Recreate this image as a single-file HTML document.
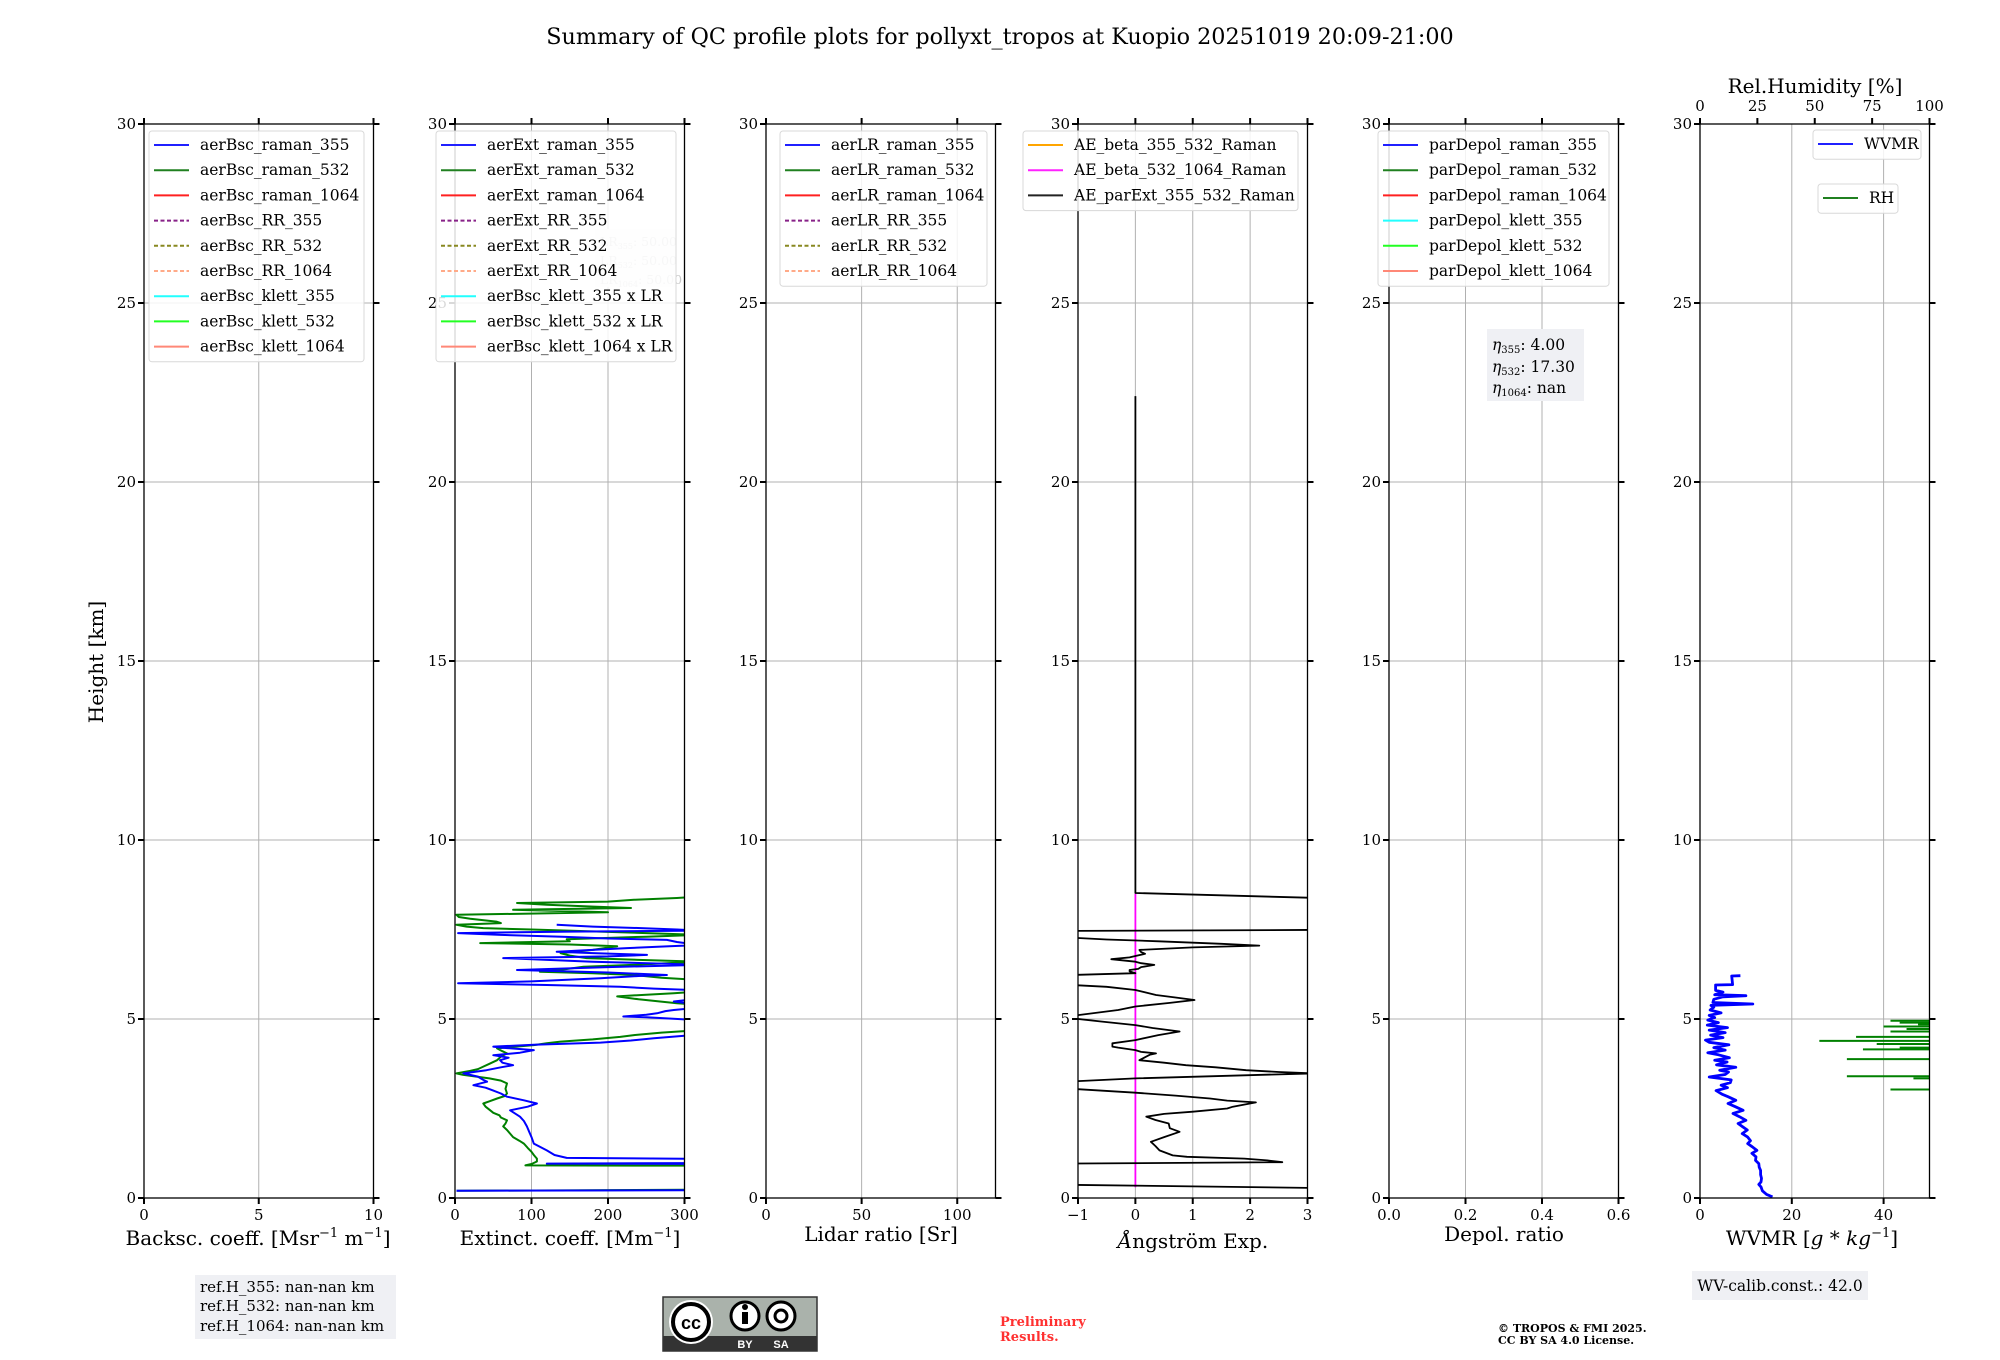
<!DOCTYPE html>
<html><head><meta charset="utf-8">
<style>
html,body{margin:0;padding:0;background:#fff;}
svg{display:block;font-family:"DejaVu Serif","Liberation Serif",serif;}
</style></head>
<body>
<svg id="fig" width="2000" height="1360" viewBox="0 0 2000 1360" xmlns="http://www.w3.org/2000/svg">
<rect x="0" y="0" width="2000" height="1360" fill="#fff"/>
<text x="1000" y="44" text-anchor="middle" font-size="22.3" fill="#000">Summary of QC profile plots for pollyxt_tropos at Kuopio 20251019 20:09-21:00</text>
<text transform="translate(103,662) rotate(-90)" text-anchor="middle" font-size="20">Height [km]</text>

<g>
<rect x="195" y="1275" width="201" height="64" fill="#eff0f4"/>
<text x="200" y="1292" font-size="15">ref.H_355: nan-nan km</text>
<text x="200" y="1311" font-size="15">ref.H_532: nan-nan km</text>
<text x="200" y="1331" font-size="15">ref.H_1064: nan-nan km</text>
</g>

<g>
<rect x="663" y="1297" width="154" height="54" fill="#aab2ab" stroke="#333" stroke-width="1.5"/>
<rect x="663" y="1336" width="154" height="15" fill="#333"/>
<circle cx="691" cy="1322" r="22" fill="#fff"/>
<circle cx="691" cy="1322" r="18" fill="#fff" stroke="#000" stroke-width="4"/>
<text x="691" y="1329" text-anchor="middle" font-size="18" font-weight="bold" font-family="Liberation Sans,sans-serif">cc</text>
<circle cx="745" cy="1316" r="14" fill="#fff" stroke="#000" stroke-width="3"/>
<rect x="742" y="1312" width="6" height="12" fill="#000"/><circle cx="745" cy="1307" r="3" fill="#000"/>
<circle cx="781" cy="1316" r="14" fill="#fff" stroke="#000" stroke-width="3"/>
<circle cx="781" cy="1316" r="6" fill="none" stroke="#000" stroke-width="3"/>
<text x="745" y="1348" text-anchor="middle" font-size="11" font-weight="bold" fill="#fff" font-family="Liberation Sans,sans-serif">BY</text>
<text x="781" y="1348" text-anchor="middle" font-size="11" font-weight="bold" fill="#fff" font-family="Liberation Sans,sans-serif">SA</text>
</g>

<text x="1000" y="1326" font-size="13" font-weight="bold" fill="#ff3030"><tspan x="1000">Preliminary</tspan><tspan x="1000" dy="15">Results.</tspan></text>
<text x="1498" y="1332" font-size="11" font-weight="bold" fill="#000"><tspan x="1498">© TROPOS &amp; FMI 2025.</tspan><tspan x="1498" dy="12">CC BY SA 4.0 License.</tspan></text>

<g>
<rect x="1692" y="1271" width="176" height="29" fill="#eff0f4"/>
<text x="1780" y="1291" text-anchor="middle" font-size="15.5">WV-calib.const.: 42.0</text>
</g>
</svg>

<script>
// ---- data ----
const extH355=[0.2,0.22,0.95,0.96,0.98,1.08,1.12,1.2,1.33,1.52,1.7,1.85,2.0,2.15,2.27,2.45,2.55,2.64,2.73,2.83,2.92,3.0,3.08,3.15,3.25,3.3,3.39,3.48,3.57,3.65,3.71,3.78,3.85,3.92,3.99,4.06,4.13,4.2,4.23,4.28,4.34,4.4,4.46,4.55,4.97,4.99,5.05,5.07,5.12,5.16,5.22,5.25,5.3,5.45,5.49,5.55,5.81,5.85,5.9,5.95,6.0,6.05,6.14,6.2,6.23,6.3,6.37,6.45,6.51,6.55,6.6,6.7,6.75,6.79,6.84,6.88,6.93,6.98,7.03,7.07,7.15,7.21,7.25,7.3,7.35,7.4,7.44,7.47,7.5,7.54,7.58,7.63];
const extV355=[2,400,400,120,400,400,146,130,120,103,100,97,94,90,85,72,95,107,90,68,60,50,40,24,42,37,30,11,41,60,76,62,59,70,50,85,103,60,50,103,190,230,260,310,400,300,250,220,250,264,275,286,310,300,286,310,310,260,216,120,4,100,190,240,277,200,81,200,320,263,180,63,200,251,180,133,180,225,280,320,290,277,200,140,60,4,150,320,290,243,180,133];
const extH532=[0.2,0.24,0.9,0.91,0.95,1.02,1.1,1.2,1.29,1.4,1.52,1.6,1.7,1.8,1.9,2.0,2.08,2.17,2.25,2.31,2.38,2.45,2.55,2.64,2.7,2.78,2.85,2.92,3.05,3.2,3.28,3.34,3.39,3.44,3.48,3.55,3.6,3.67,3.75,3.85,3.95,4.04,4.1,4.18,4.23,4.27,4.32,4.37,4.43,4.5,4.55,4.62,4.69,5.39,5.44,5.49,5.55,5.63,5.68,5.72,5.77,6.09,6.15,6.23,6.28,6.32,6.38,6.46,6.52,6.6,6.65,6.7,6.77,6.84,6.93,7.03,7.08,7.12,7.17,7.23,7.3,7.35,7.4,7.44,7.5,7.54,7.58,7.63,7.68,7.72,7.8,7.85,7.91,7.98,8.05,8.1,8.14,8.19,8.24,8.28,8.33,8.38,8.42];
const extV532=[2,400,400,92,100,107,107,103,100,95,90,84,76,72,68,63,66,68,60,58,50,46,40,37,45,55,65,68,66,68,60,45,28,10,2,20,30,37,45,55,60,68,62,55,80,103,120,138,180,216,234,270,320,320,290,268,240,212,250,286,320,320,270,234,180,111,140,168,240,320,240,172,150,138,180,212,150,33,150,146,250,320,250,190,100,37,15,2,60,54,20,5,2,200,76,230,181,120,81,200,234,290,320];
const aeH=[0.28,0.37,0.96,1.0,1.05,1.1,1.15,1.19,1.33,1.45,1.57,1.7,1.85,1.95,2.08,2.18,2.27,2.35,2.41,2.5,2.55,2.67,2.72,2.78,2.86,2.94,3.06,3.25,3.34,3.48,3.52,3.57,3.65,3.71,3.78,3.85,3.95,4.0,4.04,4.08,4.13,4.2,4.23,4.32,4.41,4.55,4.65,4.75,4.83,4.93,5.02,5.11,5.25,5.35,5.45,5.53,5.6,5.67,5.81,5.9,5.95,6.23,6.28,6.33,6.37,6.4,6.45,6.51,6.56,6.6,6.67,6.72,6.76,6.82,6.87,6.93,7.0,7.05,7.1,7.17,7.22,7.27,7.46,7.49,8.38,8.52,22.4];
const aeV=[3.2,-1.2,-1.2,2.56,2.3,1.9,0.9,0.65,0.42,0.35,0.27,0.5,0.77,0.6,0.58,0.35,0.19,0.5,1.0,1.6,1.7,2.1,1.6,1.3,0.7,0.0,-1.2,-1.2,0.0,3.1,2.5,1.93,1.4,0.88,0.5,0.07,0.19,0.25,0.36,0.1,0.0,-0.3,-0.4,-0.4,0.0,0.4,0.77,0.3,0.0,-0.6,-1.1,-1.0,-0.3,0.0,0.6,1.03,0.7,0.36,0.0,-0.5,-1.1,-1.1,0.0,-0.1,-0.1,0.05,0.1,0.33,0.1,0.0,-0.42,-0.1,0.0,0.17,0.1,0.07,1.0,2.16,1.5,0.41,-0.5,-1.1,-1.1,3.2,3.2,0.0,0.0];
const aeBetaH=[0.3,8.5];
const aeBetaV=[0,0];
const wvH=[0.03,0.1,0.2,0.31,0.38,0.45,0.55,0.65,0.77,0.86,0.96,1.05,1.15,1.25,1.33,1.43,1.52,1.6,1.7,1.8,1.9,1.99,2.08,2.17,2.27,2.36,2.45,2.55,2.64,2.73,2.83,2.9,3.0,3.08,3.15,3.22,3.3,3.38,3.45,3.52,3.57,3.65,3.72,3.8,3.85,3.92,4.0,4.06,4.13,4.2,4.28,4.35,4.41,4.48,4.55,4.62,4.69,4.76,4.83,4.9,4.97,5.04,5.1,5.17,5.25,5.33,5.38,5.42,5.46,5.55,5.62,5.65,5.68,5.75,5.8,5.95,5.96,6.2,6.21];
const wvV=[15.8,14.5,13.6,13.3,12.8,13.3,13.4,13.2,13.2,12.9,12.8,12.1,12.2,11.3,12.4,11.4,10.4,11.0,10.4,9.2,10.3,9.3,8.3,10.0,8.6,7.2,9.4,7.7,6.1,7.8,6.1,4.8,3.5,6.0,4.6,6.6,6.8,2.0,5.5,6.2,4.3,7.8,3.6,5.9,3.2,6.4,4.0,1.7,5.5,3.0,6.3,2.0,1.2,5.0,2.3,5.5,2.0,6.0,1.6,4.0,1.7,3.2,2.0,4.6,2.2,3.0,2.4,11.5,2.8,3.0,5.0,10.0,3.2,5.0,3.4,3.4,7.1,6.9,8.8];
const rhH=[3.03,3.34,3.4,3.88,4.15,4.2,4.3,4.39,4.5,4.65,4.72,4.79,4.85,4.9,4.95];
const rhV=[83,93,64,64,71,87,77,52,68,83,90,80,95,87,83];

// ---- layout ----
const NS="http://www.w3.org/2000/svg";
const svg=document.getElementById('fig');
const Y0=1198, PXKM=35.8, W=229.5;
function yH(h){return Y0-h*PXKM;}
function el(tag,attrs,parent){const e=document.createElementNS(NS,tag);for(const k in attrs)e.setAttribute(k,attrs[k]);(parent||svg).appendChild(e);return e;}

const panels=[
 {x:144,min:0,max:10,ticks:[0,5,10],lab:["0","5","10"],grid:[5],name:"backscatter"},
 {x:455,min:0,max:300,ticks:[0,100,200,300],lab:["0","100","200","300"],grid:[100,200],name:"extinction"},
 {x:766,min:0,max:120,ticks:[0,50,100],lab:["0","50","100"],grid:[50,100],name:"lidar-ratio"},
 {x:1078,min:-1,max:3,ticks:[-1,0,1,2,3],lab:["\u22121","0","1","2","3"],grid:[0,1,2],name:"angstrom"},
 {x:1389,min:0,max:0.6,ticks:[0,0.2,0.4,0.6],lab:["0.0","0.2","0.4","0.6"],grid:[0.2,0.4],name:"depol"},
 {x:1700,min:0,max:50,ticks:[0,20,40],lab:["0","20","40"],grid:[20,40],name:"wvmr"}
];
function xf(p,v){return p.x+(v-p.min)/(p.max-p.min)*W;}

panels.forEach((p,i)=>{
 const g=el('g',{});
 
 
 const cp=el('clipPath',{id:'clip'+i},g);
 el('rect',{x:p.x,y:yH(30),width:W,height:30*PXKM},cp);
 for(let h=5;h<30;h+=5){const l=el('line',{x1:p.x,x2:p.x+W,y1:yH(h),y2:yH(h),stroke:'#b0b0b0','stroke-width':1},g);
  
  }
 p.grid.forEach(v=>{const l=el('line',{x1:xf(p,v),x2:xf(p,v),y1:yH(0),y2:yH(30),stroke:'#b0b0b0','stroke-width':1},g);
  
  });
 p.g=g;p.clip='url(#clip'+i+')';
});

function poly(p,H,V,color,name,w){
 let pts=[];for(let k=0;k<H.length;k++)pts.push(xf(p,V[k]).toFixed(1)+','+yH(H[k]).toFixed(1));
 const e=el('polyline',{points:pts.join(' '),fill:'none',stroke:color,'stroke-width':w||1.8,'stroke-linejoin':'round','clip-path':p.clip},p.g);
 
 
}
// faint LR text in extinction panel
(function(){const g=panels[1].g;
 el('rect',{x:595,y:229,width:80,height:58,fill:'#f4f5f8'},g);
 [['355',246],['532',265],['1064',284]].forEach(a=>{const t=el('text',{x:600,y:a[1],'font-size':12.5,fill:'#c8c8c8'},g);
  
  
  t.innerHTML='LR<tspan font-size="8" dy="3">'+a[0]+'</tspan><tspan dy="-3">: 50.00</tspan>';});})();

poly(panels[1],extH532,extV532,'#008000','ext-532-line',2);
poly(panels[1],extH355,extV355,'#0000ff','ext-355-line',2);
poly(panels[3],aeBetaH,aeBetaV,'#ff00ff','ae-beta-532-1064-line');
poly(panels[3],aeH,aeV,'#000000','ae-parext-355-532-line');
poly(panels[5],wvH,wvV,'#0000ff','wvmr-line',2.8);
const rhP={x:1700,min:0,max:100};
for(let k=0;k<rhH.length;k++){
 const l=el('line',{x1:xf(rhP,rhV[k]),x2:xf(rhP,100),y1:yH(rhH[k]),y2:yH(rhH[k]),stroke:'#008000','stroke-width':2},panels[5].g);
 
 
}

// axes, ticks, labels
panels.forEach((p,i)=>{
 const g=p.g;
 const box=el('rect',{x:p.x,y:yH(30),width:W,height:30*PXKM,fill:'none',stroke:'#000','stroke-width':1.3},g);
 
 
 for(let h=0;h<=30;h+=5){
  el('line',{x1:p.x-6,x2:p.x,y1:yH(h),y2:yH(h),stroke:'#000','stroke-width':2},g);
  el('line',{x1:p.x+W,x2:p.x+W+6,y1:yH(h),y2:yH(h),stroke:'#000','stroke-width':2},g);
  const t=el('text',{x:p.x-8,y:yH(h)+5,'text-anchor':'end','font-size':15},g);
  
  
  t.textContent=String(h);
 }
 p.ticks.forEach((v,k)=>{
  el('line',{x1:xf(p,v),x2:xf(p,v),y1:Y0,y2:Y0+6,stroke:'#000','stroke-width':2},g);
  if(i<5) el('line',{x1:xf(p,v),x2:xf(p,v),y1:yH(30)-6,y2:yH(30),stroke:'#000','stroke-width':2},g);
  const t=el('text',{x:xf(p,v),y:Y0+22,'text-anchor':'middle','font-size':15},g);
  
  
  t.textContent=p.lab[k];
 });
});
[0,25,50,75,100].forEach(v=>{
 el('line',{x1:xf(rhP,v),x2:xf(rhP,v),y1:yH(30)-6,y2:yH(30),stroke:'#000','stroke-width':2},panels[5].g);
 const t=el('text',{x:xf(rhP,v),y:yH(30)-13,'text-anchor':'middle','font-size':15},panels[5].g);
 
 
 t.textContent=String(v);
});

const xl=[
 [258,1245,'Backsc. coeff. [Msr<tspan dy="-8" font-size="13">\u22121</tspan><tspan dy="8"> m</tspan><tspan dy="-8" font-size="13">\u22121</tspan><tspan dy="8">]</tspan>','backscatter-x-title'],
 [570,1245,'Extinct. coeff. [Mm<tspan dy="-8" font-size="13">\u22121</tspan><tspan dy="8">]</tspan>','extinction-x-title'],
 [881,1241,'Lidar ratio [Sr]','lidar-ratio-x-title'],
 [1193,1248,'<tspan font-style="italic">Å</tspan>ngström Exp.','angstrom-x-title'],
 [1504,1241,'Depol. ratio','depol-x-title'],
 [1812,1245,'WVMR [<tspan font-style="italic">g</tspan> * <tspan font-style="italic">kg</tspan><tspan dy="-8" font-size="13">\u22121</tspan><tspan dy="8">]</tspan>','wvmr-x-title']
];
xl.forEach(a=>{const t=el('text',{x:a[0],y:a[1],'text-anchor':'middle','font-size':20});
 
 
 t.innerHTML=a[2];});
const rt=el('text',{x:1815,y:93,'text-anchor':'middle','font-size':20});


rt.textContent='Rel.Humidity [%]';

function legend(x,y,w,entries,name,rowH){
 rowH=rowH||25.2;
 const g=el('g',{});
 
 
 el('rect',{x:x,y:y,width:w,height:entries.length*rowH+4,rx:3,fill:'#fff','fill-opacity':0.85,stroke:'#d8d8d8'},g);
 entries.forEach((e,k)=>{
  const cy=y+14+k*rowH;
  const l=el('line',{x1:x+5,x2:x+40,y1:cy,y2:cy,stroke:e[1],'stroke-width':2,'stroke-dasharray':e[2]?'4,2.5':'none'},g);
  
  
  const t=el('text',{x:x+51,y:cy+5,'font-size':15.5},g);
  
  
  t.textContent=e[0];
 });
}
const styl=[['#2020ff',0],['#208020',0],['#ff2020',0],['#882288',1],['#888820',1],['#ffaa88',1],['#22ffff',0],['#22ff22',0],['#ff8877',0]];
legend(149,131,215,['aerBsc_raman_355','aerBsc_raman_532','aerBsc_raman_1064','aerBsc_RR_355','aerBsc_RR_532','aerBsc_RR_1064','aerBsc_klett_355','aerBsc_klett_532','aerBsc_klett_1064'].map((n,k)=>[n,styl[k][0],styl[k][1]]),'backscatter-legend');
legend(436,131,240,['aerExt_raman_355','aerExt_raman_532','aerExt_raman_1064','aerExt_RR_355','aerExt_RR_532','aerExt_RR_1064','aerBsc_klett_355 x LR','aerBsc_klett_532 x LR','aerBsc_klett_1064 x LR'].map((n,k)=>[n,styl[k][0],styl[k][1]]),'extinction-legend');
legend(780,131,207,['aerLR_raman_355','aerLR_raman_532','aerLR_raman_1064','aerLR_RR_355','aerLR_RR_532','aerLR_RR_1064'].map((n,k)=>[n,styl[k][0],styl[k][1]]),'lidar-ratio-legend');
legend(1023,131,275,[['AE_beta_355_532_Raman','#ffa500',0],['AE_beta_532_1064_Raman','#ff22ff',0],['AE_parExt_355_532_Raman','#222',0]],'angstrom-legend');
legend(1378,131,231,['parDepol_raman_355','parDepol_raman_532','parDepol_raman_1064','parDepol_klett_355','parDepol_klett_532','parDepol_klett_1064'].map((n,k)=>[n,[styl[0],styl[1],styl[2],styl[6],styl[7],styl[8]][k][0],0]),'depol-legend');
legend(1813,130,108,[['WVMR','#2020ff',0]],'wvmr-legend');
legend(1818,184,80,[['RH','#208020',0]],'rh-legend');

(function(){const g=el('g',{});
 
 
 el('rect',{x:1487,y:329,width:97,height:72,fill:'#eff0f4'},g);
 [['355','4.00',350],['532','17.30',372],['1064','nan',393]].forEach(a=>{
  const t=el('text',{x:1492,y:a[2],'font-size':15.5},g);
  t.innerHTML='<tspan font-style="italic">η</tspan><tspan font-size="10" dy="3">'+a[0]+'</tspan><tspan dy="-3">: '+a[1]+'</tspan>';});})();
</script>
</body></html>
